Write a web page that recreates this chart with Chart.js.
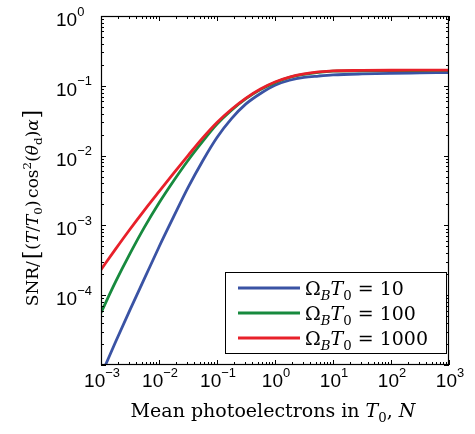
<!DOCTYPE html>
<html>
<head>
<meta charset="utf-8">
<script src="https://cdn.jsdelivr.net/npm/chart.js@4.4.0/dist/chart.umd.min.js"></script>
<style>
  body { margin: 0; background: #fff; }
  #snrChart { display: block; }
</style>
</head>
<body>
<canvas id="snrChart" width="475" height="434"></canvas>
<script>
// valeurs (N en abscisse, SNR normalise en ordonnee)
const photoelectrons = [1e-3, 1.78e-3, 3.16e-3, 5.62e-3, 1e-2, 1.78e-2, 3.16e-2, 5.62e-2,
    0.1, 0.178, 0.316, 0.562, 1, 1.78, 3.16, 5.62, 10, 31.6, 100, 316, 1000];
const snrOmega10 = [7.08e-6, 2.14e-5, 6.17e-5, 1.74e-4, 4.90e-4, 1.32e-3, 3.47e-3, 8.32e-3,
    1.82e-2, 3.39e-2, 5.50e-2, 7.76e-2, 0.102, 0.120, 0.132, 0.138, 0.143, 0.148, 0.151, 0.153, 0.155];
const snrOmega100 = [5.62e-5, 1.55e-4, 3.94e-4, 9.44e-4, 2.09e-3, 4.32e-3, 8.51e-3, 1.58e-2,
    2.82e-2, 4.47e-2, 6.53e-2, 8.81e-2, 0.111, 0.132, 0.146, 0.156, 0.162, 0.164, 0.165, 0.1656, 0.166];
const snrOmega1000 = [2.32e-4, 4.57e-4, 8.81e-4, 1.66e-3, 3.05e-3, 5.56e-3, 1.0e-2, 1.78e-2,
    2.99e-2, 4.62e-2, 6.68e-2, 9.02e-2, 0.1135, 0.1334, 0.148, 0.158, 0.164, 0.166, 0.167, 0.1675, 0.168];
const omegaValeurs = ["10", "100", "1000"];
const xExposants = [-3, -2, -1, 0, 1, 2, 3];
const yExposants = [-4, -3, -2, -1, 0];

const couleurs = ["#3a53a4", "#178a3e", "#e8202a"];
const serif = "'DejaVu Serif', serif";
const sans = "'Liberation Sans', Arial, sans-serif";

function courbe(label, valeurs, couleur, ordre) {
    return {
        label: label,
        data: photoelectrons.map((n, i) => ({x: n, y: valeurs[i]})),
        borderColor: couleur,
        backgroundColor: couleur,
        borderWidth: 2.8,
        pointRadius: 0,
        cubicInterpolationMode: 'monotone',
        fill: false,
        clip: 0,
        order: ordre,
    };
}

// texte avec indices / exposants / italique
function ecrire(c, segments, x, y, align, base, famille) {
    let total = 0;
    const police = s => (s.it ? 'italic ' : '') + (base * (s.sz || 1)).toFixed(1) + 'px ' + famille;
    for (const s of segments) {
        c.font = police(s);
        s.w = c.measureText(s.t).width;
        total += s.w + (s.sp || 0) * base;
    }
    let cx = align === 'center' ? x - total / 2 : (align === 'right' ? x - total : x);
    for (const s of segments) {
        c.font = police(s);
        c.fillText(s.t, cx, y + (s.dy || 0) * base);
        cx += s.w + (s.sp || 0) * base;
    }
    return total;
}

const sub = t => ({t: t, sz: 0.7, dy: 0.25});
const sup = t => ({t: t, sz: 0.7, dy: -0.42});

function puissance(e) {
    return [{t: '10'}, {t: (e < 0 ? '\u2212' : '') + Math.abs(e), sz: 0.68, dy: -0.55}];
}

const cadre = {
    id: 'cadre',
    afterDraw(chart) {
        const c = chart.ctx, a = chart.chartArea;
        const xs = chart.scales.x, ys = chart.scales.y;
        c.save();
        c.strokeStyle = '#000';
        c.fillStyle = '#000';
        c.lineWidth = 1;
        c.beginPath();
        for (let e = -3; e <= 3; e++) {
            for (let m = 1; m <= 9; m++) {
                const v = m * Math.pow(10, e);
                if (v > 1000.001) break;
                const px = Math.round(xs.getPixelForValue(v)) + 0.5;
                const len = m === 1 ? 5 : 3;
                c.moveTo(px, a.bottom); c.lineTo(px, a.bottom - len);
                c.moveTo(px, a.top); c.lineTo(px, a.top + len);
            }
        }
        for (let e = -5; e <= 0; e++) {
            for (let m = 1; m <= 9; m++) {
                const v = m * Math.pow(10, e);
                if (v > 1.0001) break;
                const py = Math.round(ys.getPixelForValue(v)) + 0.5;
                const len = m === 1 ? 5 : 3;
                c.moveTo(a.left, py); c.lineTo(a.left + len, py);
                c.moveTo(a.right, py); c.lineTo(a.right - len, py);
            }
        }
        c.stroke();
        c.lineWidth = 1.2;
        c.strokeRect(Math.round(a.left) + 0.5, Math.round(a.top) + 0.5,
            Math.round(a.width) - 1, Math.round(a.height) - 1);

        // etiquettes des graduations
        c.textBaseline = 'alphabetic';
        for (const e of xExposants) {
            ecrire(c, puissance(e), xs.getPixelForValue(Math.pow(10, e)) + 1, a.bottom + 22, 'center', 19, sans);
        }
        for (const e of yExposants) {
            ecrire(c, puissance(e), 56, ys.getPixelForValue(Math.pow(10, e)) + 10, 'left', 19, sans);
        }

        // titres des axes
        ecrire(c, [{t: 'Mean photoelectrons in '}, {t: 'T', it: true}, sub('0'), {t: ', '}, {t: 'N', it: true}],
            273, 417, 'center', 19, serif);
        c.save();
        c.translate(38, 208);
        c.rotate(-Math.PI / 2);
        ecrire(c, [{t: 'SNR/', sp: 0.12}, {t: '[', sz: 1.3, dy: 0.08, sp: 0.05}, {t: '('}, {t: 'T', it: true}, {t: '/'},
            {t: 'T', it: true}, sub('0'), {t: ')', sp: 0.15}, {t: 'cos'}, sup('2'), {t: '('},
            {t: '\u03b8', it: true}, sub('d'), {t: ')'}, {t: '\u03b1', it: true, sp: 0.05},
            {t: ']', sz: 1.3, dy: 0.08}], 0, 0, 'center', 17, serif);
        c.restore();

        // legende
        const lg = {left: 225, top: 272, right: 447, bottom: 354};
        c.fillStyle = '#fff';
        c.fillRect(lg.left, lg.top, lg.right - lg.left, lg.bottom - lg.top);
        c.lineWidth = 1;
        c.strokeStyle = '#000';
        c.strokeRect(lg.left + 0.5, lg.top + 0.5, lg.right - lg.left - 1, lg.bottom - lg.top - 1);
        chart.data.datasets.forEach((ds, i) => {
            const y = 288 + i * 25;
            c.strokeStyle = ds.borderColor;
            c.lineWidth = 2.8;
            c.beginPath();
            c.moveTo(238, y);
            c.lineTo(300, y);
            c.stroke();
            c.fillStyle = '#000';
            ecrire(c, [{t: '\u03a9'}, {t: 'B', it: true, sz: 0.7, dy: 0.25}, {t: 'T', it: true}, sub('0'),
                {t: ' = ' + omegaValeurs[i]}], 305, y + 7, 'left', 19, serif);
        });
        c.restore();
    }
};

const ctx = document.getElementById('snrChart');
const graphe = new Chart(ctx, {
    type: 'line',
    data: {
        datasets: [
            courbe('\u03a9B T0 = ' + omegaValeurs[0], snrOmega10, couleurs[0], 2),
            courbe('\u03a9B T0 = ' + omegaValeurs[1], snrOmega100, couleurs[1], 1),
            courbe('\u03a9B T0 = ' + omegaValeurs[2], snrOmega1000, couleurs[2], 0),
        ],
    },
    options: {
        responsive: false,
        animation: false,
        layout: {padding: {top: 16, right: 26, left: 0, bottom: 0}},
        plugins: {legend: {display: false}, tooltip: {enabled: false}},
        scales: {
            x: {
                type: 'logarithmic',
                min: 1e-3,
                max: 1e3,
                ticks: {display: false},
                grid: {display: false},
                border: {display: false},
                afterFit: s => { s.height = 69; },
            },
            y: {
                type: 'logarithmic',
                min: 1e-5,
                max: 1,
                ticks: {display: false},
                grid: {display: false},
                border: {display: false},
                afterFit: s => { s.width = 101; },
            },
        },
    },
    plugins: [cadre],
});
</script>
</body>
</html>
